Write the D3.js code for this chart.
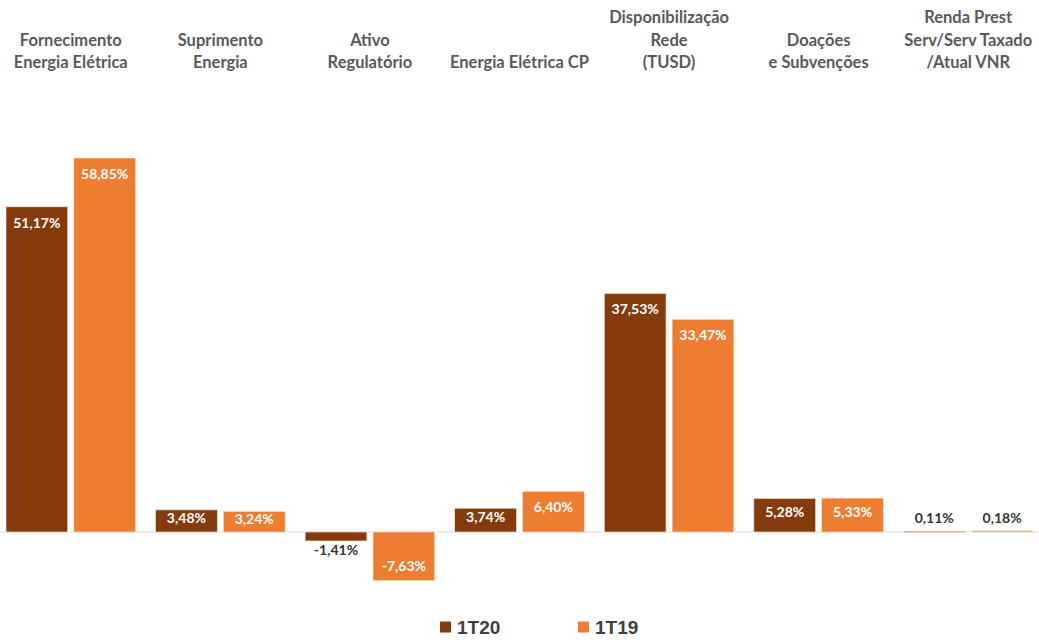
<!DOCTYPE html>
<html>
<head>
<meta charset="utf-8">
<script src="https://cdn.jsdelivr.net/npm/d3@7"></script>
<style>
  body { margin: 0; background: #fff; }
  svg { display: block; }
</style>
</head>
<body>
<div id="chart"></div>
<script>
"use strict";

const categories = [
    ["Fornecimento", "Energia Elétrica"],
    ["Suprimento", "Energia"],
    ["Ativo", "Regulatório"],
    ["Energia Elétrica CP"],
    ["Disponibilização", "Rede", "(TUSD)"],
    ["Doações", "e Subvenções"],
    ["Renda Prest", "Serv/Serv Taxado", "/Atual VNR"]
];
const seriesNames = ["1T20", "1T19"];
const values1T20 = [51.17, 3.48, -1.41, 3.74, 37.53, 5.28, 0.11];
const values1T19 = [58.85, 3.24, -7.63, 6.40, 33.47, 5.33, 0.18];
const colors = ["#843C0C", "#ED7D31"];

const width = 1039, height = 640;
// Excel-style label: comma decimal, plain hyphen for negatives
const fmt = v => (v < 0 ? "-" : "") + Math.abs(v).toFixed(2).replace(".", ",") + "%";

const svg = d3.select("#chart").append("svg")
    .attr("width", width)
    .attr("height", height);

const x0 = d3.scaleBand()
    .domain(d3.range(categories.length))
    .range([-4, 1043])
    .paddingInner(0)
    .paddingOuter(0);
const x1 = d3.scaleBand()
    .domain(seriesNames)
    .range([10, x0.bandwidth() - 10])
    .paddingInner(0.09);
const y = d3.scaleLinear()
    .domain([-7.63, 58.85])
    .range([580.5, 158]);

// zero line
svg.append("line")
    .attr("x1", 0).attr("x2", width)
    .attr("y1", y(0)).attr("y2", y(0))
    .attr("stroke", "#d9d9d9")
    .attr("stroke-width", 1);

const rows = categories.map((c, i) => ({
    i: i,
    vals: [values1T20[i], values1T19[i]]
}));

const groups = svg.selectAll("g.group")
    .data(rows)
    .enter().append("g")
    .attr("class", "group")
    .attr("transform", d => `translate(${x0(d.i)},0)`);

const bars = groups.selectAll("g.bar")
    .data(d => d.vals.map((v, k) => ({ v: v, k: k })))
    .enter().append("g")
    .attr("class", "bar");

bars.append("rect")
    .attr("x", d => x1(seriesNames[d.k]))
    .attr("width", x1.bandwidth())
    .attr("y", d => Math.min(y(d.v), y(0)))
    .attr("height", d => Math.max(1, Math.abs(y(d.v) - y(0))))
    .attr("fill", d => colors[d.k])
    .attr("stroke", "#fbe3d2")
    .attr("stroke-width", 0.6);

bars.append("text")
    .attr("x", d => x1(seriesNames[d.k]) + x1.bandwidth() / 2)
    .attr("y", d => {
        const h = Math.abs(y(d.v) - y(0));
        if (h < 15) return d.v >= 0 ? y(d.v) - 13 : y(d.v) + 9;
        if (d.v >= 0) return Math.min(y(d.v) + 16, (y(d.v) + y(0)) / 2 - 3);
        return y(d.v) - 14;
    })
    .attr("dy", "0.35em")
    .attr("text-anchor", "middle")
    .attr("font-family", "Lato, 'Open Sans', sans-serif")
    .attr("font-weight", "bold")
    .attr("font-size", "14px")
    .attr("fill", d => Math.abs(y(d.v) - y(0)) < 15 ? "#333333" : "#ffffff")
    .text(d => fmt(d.v));

// category labels (bottom-aligned above chart)
const lineH = 22.5;
svg.selectAll("text.cat")
    .data(categories)
    .enter().append("text")
    .attr("class", "cat")
    .attr("x", (d, i) => x0(i) + x0.bandwidth() / 2)
    .attr("text-anchor", "middle")
    .attr("font-family", "Lato, 'Open Sans', sans-serif")
    .attr("font-weight", "bold")
    .attr("font-size", "16.5px")
    .attr("fill", "#595959")
    .each(function(d) {
        const t = d3.select(this);
        d.forEach((line, j) => {
            t.append("tspan")
                .attr("x", t.attr("x"))
                .attr("y", 68 - (d.length - 1 - j) * lineH)
                .text(line);
        });
    });

// legend
const legend = svg.append("g")
    .attr("transform", "translate(440,627)");
const legendItems = legend.selectAll("g")
    .data(seriesNames)
    .enter().append("g")
    .attr("transform", (d, i) => `translate(${i * 138},0)`);
legendItems.append("rect")
    .attr("x", 0).attr("y", -5.5)
    .attr("width", 11).attr("height", 11)
    .attr("fill", (d, i) => colors[i]);
legendItems.append("text")
    .attr("x", 17)
    .attr("y", 0)
    .attr("dy", "0.35em")
    .attr("font-family", "'Liberation Sans', Arial, sans-serif")
    .attr("font-weight", "bold")
    .attr("font-size", "19px")
    .attr("fill", "#404040")
    .text(d => d);
</script>
</body>
</html>
